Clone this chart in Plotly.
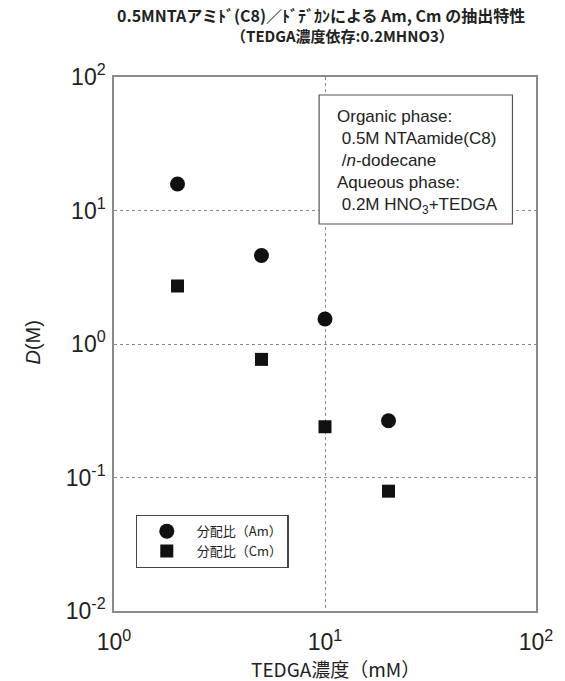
import plotly.graph_objects as go

# Data
tedga_mM = [2, 5, 10, 20]
d_am = [15.8, 4.6, 1.54, 0.266]
d_cm = [2.72, 0.767, 0.24, 0.079]
x_tick_vals = [1, 10, 100]
x_tick_text = ["10<sup>0</sup>", "10<sup>1</sup>", "10<sup>2</sup>"]
y_tick_vals = [0.01, 0.1, 1, 10, 100]
y_tick_text = ["10<sup>-2</sup>", "10<sup>-1</sup>", "10<sup>0</sup>", "10<sup>1</sup>", "10<sup>2</sup>"]
name_am = "分配比（Am）"
name_cm = "分配比（Cm）"
title_line1 = "0.5MNTAアミﾄﾞ(C8)／ﾄﾞﾃﾞｶﾝによる Am, Cm の抽出特性"
title_line2 = "（TEDGA濃度依存:0.2MHNO3）"

FONT = "Liberation Sans, Arial, Noto Sans CJK JP, sans-serif"
CJK = "Noto Sans CJK JP, Liberation Sans, sans-serif"
W, H = 565, 681
L, R, T, B = 114, 21, 77, 70
pw, ph = W - L - R, H - T - B

def px(x):
    return (x - L) / pw

def py(y):
    return (H - B - y) / ph

fig = go.Figure()
fig.add_trace(go.Scatter(x=tedga_mM, y=d_am, mode="markers", name=name_am,
                         marker=dict(symbol="circle", size=15, color="#111111")))
fig.add_trace(go.Scatter(x=tedga_mM, y=d_cm, mode="markers", name=name_cm,
                         marker=dict(symbol="square", size=13, color="#111111")))

axis_common = dict(
    type="log", showline=True, mirror=True, linecolor="#8a8a8a", linewidth=1.5,
    showgrid=True, gridcolor="#8a8a8a", griddash="dot", gridwidth=1,
    ticks="", zeroline=False, tickfont=dict(family=FONT, size=23, color="#222"),
)
fig.update_xaxes(range=[0, 2], tickvals=x_tick_vals, ticktext=x_tick_text,
                 ticklabelstandoff=10, **axis_common)
fig.update_yaxes(range=[-2, 2], tickvals=y_tick_vals, ticktext=y_tick_text,
                 ticklabelstandoff=2, **axis_common)

# condition box
fig.add_shape(type="rect", xref="paper", yref="paper",
              x0=px(323), x1=px(520), y0=py(224), y1=py(95),
              line=dict(color="#555", width=1.2), fillcolor="white", layer="above")
fig.add_annotation(
    xref="paper", yref="paper", x=px(340), y=py(106), xanchor="left", yanchor="top",
    text=("Organic phase:<br>&nbsp;0.5M NTAamide(C8)<br>&nbsp;/<i>n</i>-dodecane<br>"
          "Aqueous phase:<br>&nbsp;0.2M HNO<sub>3</sub>+TEDGA"),
    align="left", showarrow=False, borderpad=0,
    font=dict(family=FONT, size=17, color="#222"),
)
fig.add_annotation(
    xref="paper", yref="paper", x=px(31), y=py(343), xanchor="center", yanchor="middle",
    textangle=-90, showarrow=False,
    text="<i>D</i>(M)", font=dict(family=FONT, size=20, color="#222"),
)
fig.add_annotation(
    xref="paper", yref="paper", x=px(340), y=py(668), xanchor="center", yanchor="middle",
    showarrow=False,
    text="TEDGA濃度（mM）", font=dict(family=CJK, size=19, color="#222"),
)
# title lines
fig.add_annotation(
    xref="paper", yref="paper", x=px(325), y=py(15), xanchor="center", yanchor="middle",
    showarrow=False, text="<b>" + title_line1 + "</b>",
    font=dict(family=CJK, size=16, color="#222"),
)
fig.add_annotation(
    xref="paper", yref="paper", x=px(347), y=py(36), xanchor="center", yanchor="middle",
    showarrow=False, text="<b>" + title_line2 + "</b>",
    font=dict(family=CJK, size=15, color="#222"),
)

fig.update_layout(
    width=W, height=H, margin=dict(l=L, r=R, t=T, b=B),
    paper_bgcolor="white", plot_bgcolor="white",
    legend=dict(
        x=px(136), y=py(515), xanchor="left", yanchor="top",
        bordercolor="#444", borderwidth=1.2, bgcolor="white",
        font=dict(family=CJK, size=13, color="#222"), itemwidth=50,
        tracegroupgap=0,
    ),
    showlegend=True,
)

fig.write_html("out.html")
